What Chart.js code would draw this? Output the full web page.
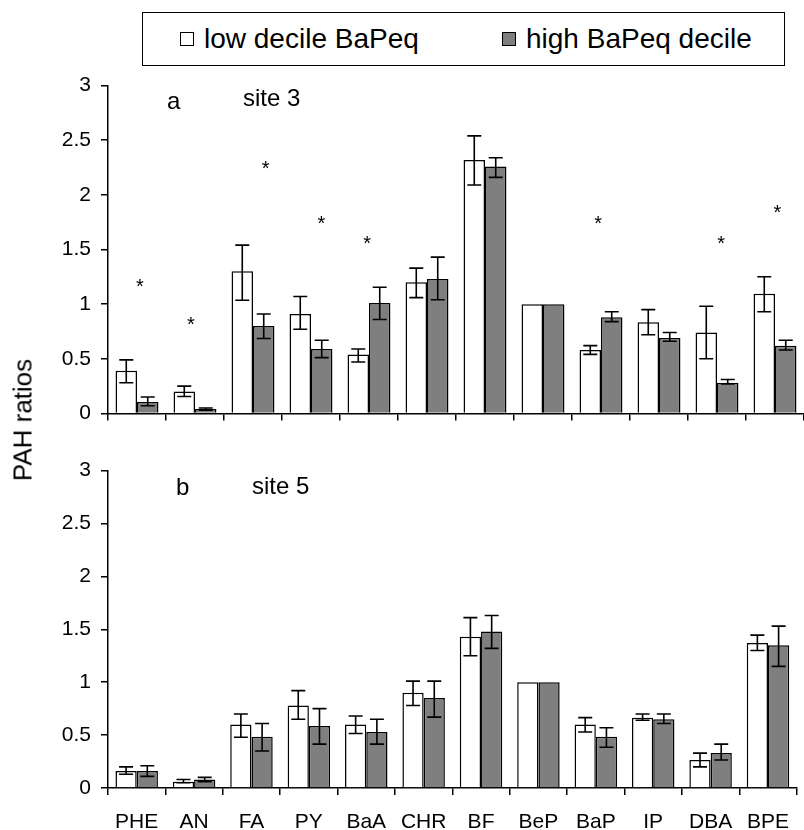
<!DOCTYPE html>
<html>
<head>
<meta charset="utf-8">
<script src="https://cdn.jsdelivr.net/npm/chart.js@4/dist/chart.umd.min.js"></script>
<style>
  body { margin: 0; background: #fff; font-family: "Liberation Sans", Arial, sans-serif; }
  #wrap { position: relative; width: 804px; height: 830px; overflow: hidden; }
  .box { position: absolute; }
  #legend { position: absolute; left: 142px; top: 12px; width: 641px; height: 52px; border: 1.5px solid #000; font-size: 28px; }
  .item { position: absolute; top: 0; height: 52px; line-height: 52px; white-space: nowrap; }
  .sw { display: inline-block; width: 12px; height: 12px; border: 1px solid #000; vertical-align: middle; margin-right: 10px; position: relative; top: -2px; }
  .txt { position: absolute; font-size: 24px; color: #000; line-height: 1; }
  #ytitle { position: absolute; left: 23px; top: 420px; font-size: 26px; transform: translate(-50%, -50%) rotate(-90deg); white-space: nowrap; }
</style>
</head>
<body>
<div id="wrap">
  <div id="legend"></div>
  <div class="box" style="left:0;top:63px;width:804px;height:373px"><canvas id="chartA"></canvas></div>
  <div class="box" style="left:0;top:448px;width:804px;height:382px"><canvas id="chartB"></canvas></div>
  <div class="txt" style="left:167px;top:89px">a</div>
  <div class="txt" style="left:243px;top:86px">site 3</div>
  <div class="txt" style="left:176px;top:475px">b</div>
  <div class="txt" style="left:252px;top:474px">site 5</div>
  <div id="ytitle">PAH ratios</div>
</div>
<script>
const labels = ['PHE', 'AN', 'FA', 'PY', 'BaA', 'CHR', 'BF', 'BeP', 'BaP', 'IP', 'DBA', 'BPE'];
const yTicks = [0, 0.5, 1, 1.5, 2, 2.5, 3];

// site 3
const lowA  = [0.39, 0.20, 1.30, 0.91, 0.54, 1.20, 2.32, 1, 0.58, 0.835, 0.74, 1.095];
const highA = [0.105, 0.04, 0.80, 0.59, 1.01, 1.23, 2.26, 1, 0.88, 0.69, 0.28, 0.62];
const lowAErr  = [[0.28,0.49],[0.155,0.25],[1.035,1.54],[0.77,1.07],[0.47,0.59],[1.06,1.33],[2.09,2.54],null,[0.54,0.62],[0.72,0.95],[0.50,0.98],[0.93,1.25]];
const highAErr = [[0.07,0.15],[0.03,0.05],[0.685,0.91],[0.51,0.67],[0.86,1.155],[1.04,1.43],[2.16,2.34],null,[0.84,0.93],[0.66,0.74],[0.27,0.31],[0.58,0.67]];
const starPosA = [0.05, 0.93, 2.22, 3.18, 3.97, 7.95, 10.07, 11.04];
const starValA = [1.20, 0.855, 2.28, 1.78, 1.60, 1.78, 1.60, 1.88];

// site 5
const lowB  = [0.16, 0.06, 0.60, 0.78, 0.60, 0.90, 1.43, 1, 0.60, 0.665, 0.265, 1.37];
const highB = [0.16, 0.08, 0.485, 0.585, 0.53, 0.85, 1.48, 1, 0.485, 0.65, 0.33, 1.35];
const lowBErr  = [[0.13,0.20],[0.05,0.08],[0.48,0.70],[0.65,0.92],[0.515,0.68],[0.78,1.01],[1.25,1.61],null,[0.53,0.665],[0.64,0.70],[0.20,0.33],[1.30,1.445]];
const highBErr = [[0.11,0.21],[0.06,0.10],[0.35,0.61],[0.415,0.75],[0.415,0.65],[0.67,1.01],[1.32,1.63],null,[0.385,0.57],[0.61,0.70],[0.265,0.415],[1.15,1.53]];

const FONT = '"Liberation Sans", Arial, sans-serif';

// error bars + asterisks drawn through the chart scales
const extras = {
  id: 'extras',
  afterDatasetsDraw(chart, args, opts) {
    const ctx = chart.ctx;
    const y = chart.scales.y, x = chart.scales.x;
    ctx.save();
    ctx.strokeStyle = '#000';
    ctx.lineWidth = 1.6;
    opts.errors.forEach((errs, di) => {
      const meta = chart.getDatasetMeta(di);
      meta.data.forEach((bar, i) => {
        const e = errs[i];
        if (!e) return;
        const y0 = y.getPixelForValue(e[0]), y1 = y.getPixelForValue(e[1]);
        ctx.beginPath();
        ctx.moveTo(bar.x, y0); ctx.lineTo(bar.x, y1);
        ctx.moveTo(bar.x - 7, y0); ctx.lineTo(bar.x + 7, y0);
        ctx.moveTo(bar.x - 7, y1); ctx.lineTo(bar.x + 7, y1);
        ctx.stroke();
      });
    });
    if (opts.starPos) {
      ctx.fillStyle = '#000';
      ctx.font = '20px ' + FONT;
      ctx.textAlign = 'center';
      ctx.textBaseline = 'alphabetic';
      opts.starPos.forEach((p, i) => {
        ctx.fillText('*', x.getPixelForValue(p), y.getPixelForValue(opts.starVal[i]) + 11);
      });
    }
    ctx.restore();
  }
};

function makeChart(id, low, high, lowErr, highErr, starPos, starVal, showLabels) {
  return new Chart(document.getElementById(id), {
    type: 'bar',
    data: {
      labels: labels,
      datasets: [{
        label: 'low decile BaPeq',
        data: low,
        backgroundColor: '#ffffff',
        borderColor: '#000',
        borderWidth: 1.5
      }, {
        label: 'high BaPeq decile',
        data: high,
        backgroundColor: '#7f7f7f',
        borderColor: '#000',
        borderWidth: 1.5
      }]
    },
    options: {
      responsive: true,
      maintainAspectRatio: false,
      animation: false,
      layout: { padding: { top: 6, left: 0, right: 0, bottom: 0 } },
      datasets: { bar: { barPercentage: 1, categoryPercentage: 0.74 } },
      plugins: {
        legend: { display: false },
        tooltip: { enabled: false },
        extras: { errors: [lowErr, highErr], starPos: starPos, starVal: starVal }
      },
      scales: {
        x: {
          grid: { display: true, drawOnChartArea: false, offset: true, tickLength: 7, color: '#000', lineWidth: 1.5 },
          border: { color: '#000', width: 1.5 },
          ticks: { display: showLabels, color: '#000', font: { family: FONT, size: 21 }, padding: 15, maxRotation: 0, autoSkip: false },
          afterFit: s => { s.height = showLabels ? 42 : 7; }
        },
        y: {
          min: 0, max: 3,
          afterBuildTicks: s => { s.ticks = yTicks.map(v => ({ value: v })); },
          grid: { display: true, drawOnChartArea: false, tickLength: 7, color: '#000', lineWidth: 1.5 },
          border: { color: '#000', width: 1.5 },
          ticks: { color: '#000', font: { family: FONT, size: 21 }, padding: 10, callback: v => String(v) },
          afterFit: s => { s.width = 108; }
        }
      }
    },
    plugins: [extras]
  });
}

const chartA = makeChart('chartA', lowA, highA, lowAErr, highAErr, starPosA, starValA, false);
const chartB = makeChart('chartB', lowB, highB, lowBErr, highBErr, null, null, true);

// html legend from the chart's datasets
const legendEl = document.getElementById('legend');
const itemLeft = [37, 359];
chartA.data.datasets.forEach((ds, i) => {
  const it = document.createElement('div');
  it.className = 'item';
  it.style.left = itemLeft[i] + 'px';
  const sw = document.createElement('span');
  sw.className = 'sw';
  sw.style.background = ds.backgroundColor;
  it.appendChild(sw);
  it.appendChild(document.createTextNode(ds.label));
  legendEl.appendChild(it);
});
</script>
</body>
</html>
